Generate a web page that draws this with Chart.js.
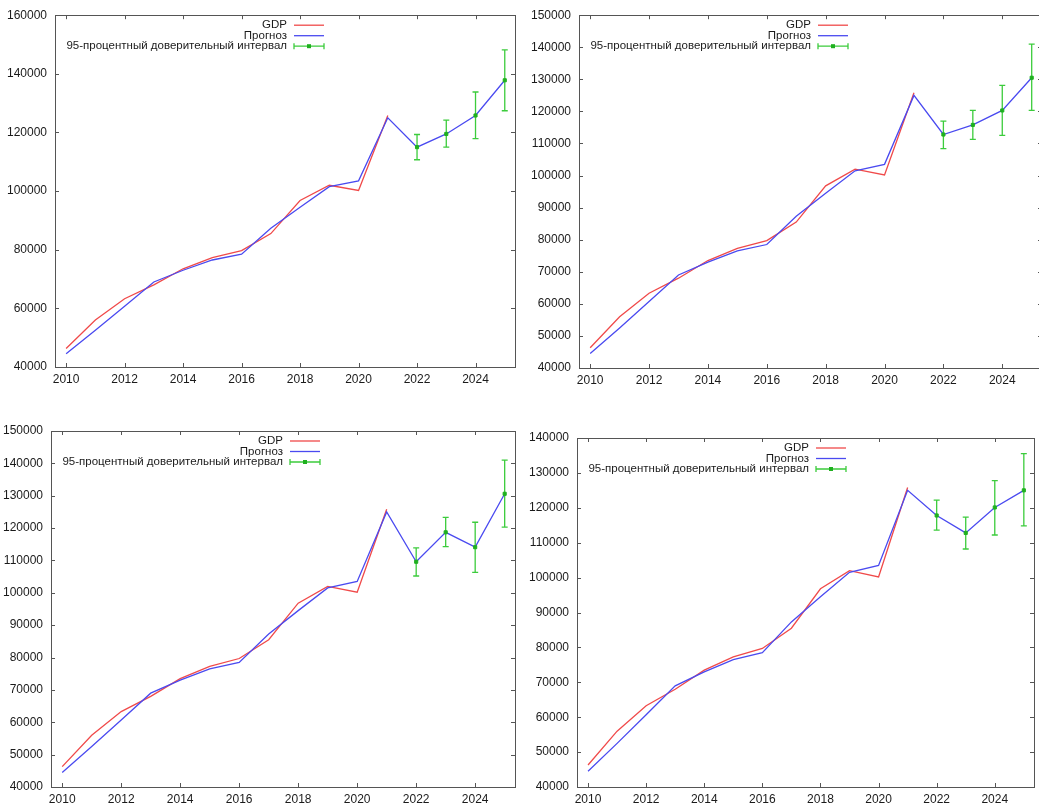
<!DOCTYPE html>
<html>
<head>
<meta charset="utf-8">
<script src="https://cdn.jsdelivr.net/npm/chart.js@4.4.1/dist/chart.umd.min.js"></script>
<style>
html,body{margin:0;padding:0;background:#fff;overflow:hidden;}
body{width:1039px;height:803px;position:relative;}
canvas{position:absolute;}
</style>
</head>
<body>
<canvas id="c1"></canvas>
<canvas id="c2"></canvas>
<canvas id="c3"></canvas>
<canvas id="c4"></canvas>
<script>
/* ======================
   DATA
====================== */
const years = [2010,2011,2012,2013,2014,2015,2016,2017,2018,2019,2020,2021];
const gdp = [46300,56000,63300,68000,73500,77300,79700,85500,96800,102000,100200,125800];
const fitted = [44500,52500,60700,69000,73000,76500,78500,87300,94500,101500,103500,125000];

const forecastYears = [2022,2023,2024,2025];

const forecast1 = [115000,119500,125800,137800];
const lower1 = [110700,115000,117900,127400];
const upper1 = [119300,124200,133800,148200];

const forecast2 = [112800,115800,120300,130500];
const lower2 = [108400,111300,112500,120300];
const upper2 = [117000,120300,128100,141000];

const forecast3 = [109600,118700,114100,130600];
const lower3 = [105200,114300,106300,120300];
const upper3 = [113900,123300,121800,141000];

const forecast4 = [117800,112800,120100,125000];
const lower4 = [113600,108200,112200,114800];
const upper4 = [122200,117300,127800,135500];

const xTicks = [2010,2012,2014,2016,2018,2020,2022,2024];
const yTicks1 = [40000,60000,80000,100000,120000,140000,160000];
const yTicks2 = [40000,50000,60000,70000,80000,90000,100000,110000,120000,130000,140000,150000];
const yTicks3 = [40000,50000,60000,70000,80000,90000,100000,110000,120000,130000,140000,150000];
const yTicks4 = [40000,50000,60000,70000,80000,90000,100000,110000,120000,130000,140000];

const legendLabels = ["GDP","Прогноз","95-процентный доверительный интервал"];

/* ======================
   STYLE
====================== */
const RED = "#f04a4a";
const BLUE = "#4a4af0";
const GREEN = "#3ccc3c";
const DARKGREEN = "#1fb01f";
const FRAME = "#555";

Chart.defaults.font.family = "'Liberation Sans', Arial, sans-serif";
Chart.defaults.font.size = 12;
Chart.defaults.color = "#1a1a1a";

// frame, inward ticks, error bars and legend (gnuplot look)
const gnuplotLook = {
  id: "gnuplotLook",
  beforeDatasetsDraw(chart) {
    const ctx = chart.ctx;
    const x = chart.scales.x, y = chart.scales.y;
    const eb = chart.options.plugins.gnuplotLook;
    ctx.save();
    ctx.strokeStyle = GREEN;
    ctx.lineWidth = 1.3;
    eb.xs.forEach((xv, i) => {
      const px = x.getPixelForValue(xv);
      const lo = y.getPixelForValue(eb.lower[i]);
      const hi = y.getPixelForValue(eb.upper[i]);
      ctx.beginPath();
      ctx.moveTo(px, lo); ctx.lineTo(px, hi);
      ctx.moveTo(px - 3, lo); ctx.lineTo(px + 3, lo);
      ctx.moveTo(px - 3, hi); ctx.lineTo(px + 3, hi);
      ctx.stroke();
    });
    ctx.restore();
  },
  afterDraw(chart) {
    const ctx = chart.ctx;
    const a = chart.chartArea;
    const x = chart.scales.x, y = chart.scales.y;
    ctx.save();
    ctx.strokeStyle = FRAME;
    ctx.lineWidth = 1;
    ctx.strokeRect(Math.round(a.left) + 0.5, Math.round(a.top) + 0.5,
      Math.round(a.right - a.left), Math.round(a.bottom - a.top));
    ctx.beginPath();
    x.ticks.forEach(t => {
      const px = Math.round(x.getPixelForValue(t.value)) + 0.5;
      ctx.moveTo(px, a.bottom); ctx.lineTo(px, a.bottom - 4);
      ctx.moveTo(px, a.top); ctx.lineTo(px, a.top + 4);
    });
    y.ticks.forEach(t => {
      const py = Math.round(y.getPixelForValue(t.value)) + 0.5;
      ctx.moveTo(a.left, py); ctx.lineTo(a.left + 4, py);
      ctx.moveTo(a.right, py); ctx.lineTo(a.right - 4, py);
    });
    ctx.stroke();

    // legend
    const textRight = a.left + 232;
    const s1 = a.left + 239, s2 = a.left + 269;
    const rows = [a.top + 10, a.top + 20.5, a.top + 31];
    ctx.font = "11.5px 'Liberation Sans', Arial, sans-serif";
    ctx.fillStyle = "#1a1a1a";
    ctx.textAlign = "right";
    ctx.textBaseline = "middle";
    legendLabels.forEach((lbl, i) => ctx.fillText(lbl, textRight, rows[i]));
    ctx.lineWidth = 1.3;
    ctx.strokeStyle = RED;
    ctx.beginPath(); ctx.moveTo(s1, rows[0]); ctx.lineTo(s2, rows[0]); ctx.stroke();
    ctx.strokeStyle = BLUE;
    ctx.beginPath(); ctx.moveTo(s1, rows[1]); ctx.lineTo(s2, rows[1]); ctx.stroke();
    ctx.strokeStyle = GREEN;
    ctx.beginPath();
    ctx.moveTo(s1, rows[2]); ctx.lineTo(s2, rows[2]);
    ctx.moveTo(s1, rows[2] - 3); ctx.lineTo(s1, rows[2] + 3);
    ctx.moveTo(s2, rows[2] - 3); ctx.lineTo(s2, rows[2] + 3);
    ctx.stroke();
    ctx.fillStyle = DARKGREEN;
    ctx.fillRect((s1 + s2) / 2 - 2, rows[2] - 2, 4, 4);
    ctx.restore();
  }
};

/* ======================
   PANELS
====================== */
function makePanel(id, box, forecast, lower, upper, yTicks) {
  const cv = document.getElementById(id);
  cv.width = box.w; cv.height = box.h;
  cv.style.left = box.left + "px";
  cv.style.top = box.top + "px";

  const allYears = years.concat(forecastYears);
  const blue = fitted.concat(forecast);

  return new Chart(cv, {
    type: "line",
    data: {
      datasets: [
        {
          label: "markers",
          data: forecastYears.map((yr, i) => ({x: yr, y: forecast[i]})),
          showLine: false,
          pointStyle: "rect",
          pointRadius: 2.2,
          backgroundColor: DARKGREEN,
          borderColor: DARKGREEN,
          order: 0
        },
        {
          label: "Прогноз",
          data: allYears.map((yr, i) => ({x: yr, y: blue[i]})),
          borderColor: BLUE,
          borderWidth: 1.3,
          pointRadius: 0,
          tension: 0,
          order: 1
        },
        {
          label: "GDP",
          data: years.map((yr, i) => ({x: yr, y: gdp[i]})),
          borderColor: RED,
          borderWidth: 1.3,
          pointRadius: 0,
          tension: 0,
          order: 2
        }
      ]
    },
    options: {
      responsive: false,
      animation: false,
      events: [],
      layout: { padding: { top: box.top0, right: box.w - box.right, left: 0, bottom: 0 } },
      plugins: {
        legend: { display: false },
        tooltip: { enabled: false },
        gnuplotLook: { xs: forecastYears, lower: lower, upper: upper }
      },
      scales: {
        x: {
          type: "linear",
          min: 2009.62,
          max: 2025.35,
          grid: { display: false, drawTicks: false },
          border: { display: false },
          afterBuildTicks: s => { s.ticks = xTicks.map(v => ({value: v})); },
          afterFit: s => { s.height = box.h - box.bottom; },
          ticks: { padding: 5, maxRotation: 0, autoSkip: false, callback: v => String(v) }
        },
        y: {
          min: yTicks[0],
          max: yTicks[yTicks.length - 1],
          grid: { display: false, drawTicks: false },
          border: { display: false },
          afterBuildTicks: s => { s.ticks = yTicks.map(v => ({value: v})); },
          afterFit: s => { s.width = box.areaLeft; },
          ticks: { padding: 8, autoSkip: false, callback: v => String(v) }
        }
      }
    },
    plugins: [gnuplotLook]
  });
}

makePanel("c1", {left:0, top:0, w:520, h:400, areaLeft:55, right:517, top0:15, bottom:367},
  forecast1, lower1, upper1, yTicks1);
makePanel("c2", {left:520, top:0, w:527, h:400, areaLeft:59, right:524, top0:14, bottom:368},
  forecast2, lower2, upper2, yTicks2);
makePanel("c3", {left:0, top:400, w:520, h:403, areaLeft:51, right:518, top0:31, bottom:387},
  forecast3, lower3, upper3, yTicks3);
makePanel("c4", {left:520, top:400, w:519, h:403, areaLeft:57, right:515, top0:38, bottom:387},
  forecast4, lower4, upper4, yTicks4);
</script>
</body>
</html>
